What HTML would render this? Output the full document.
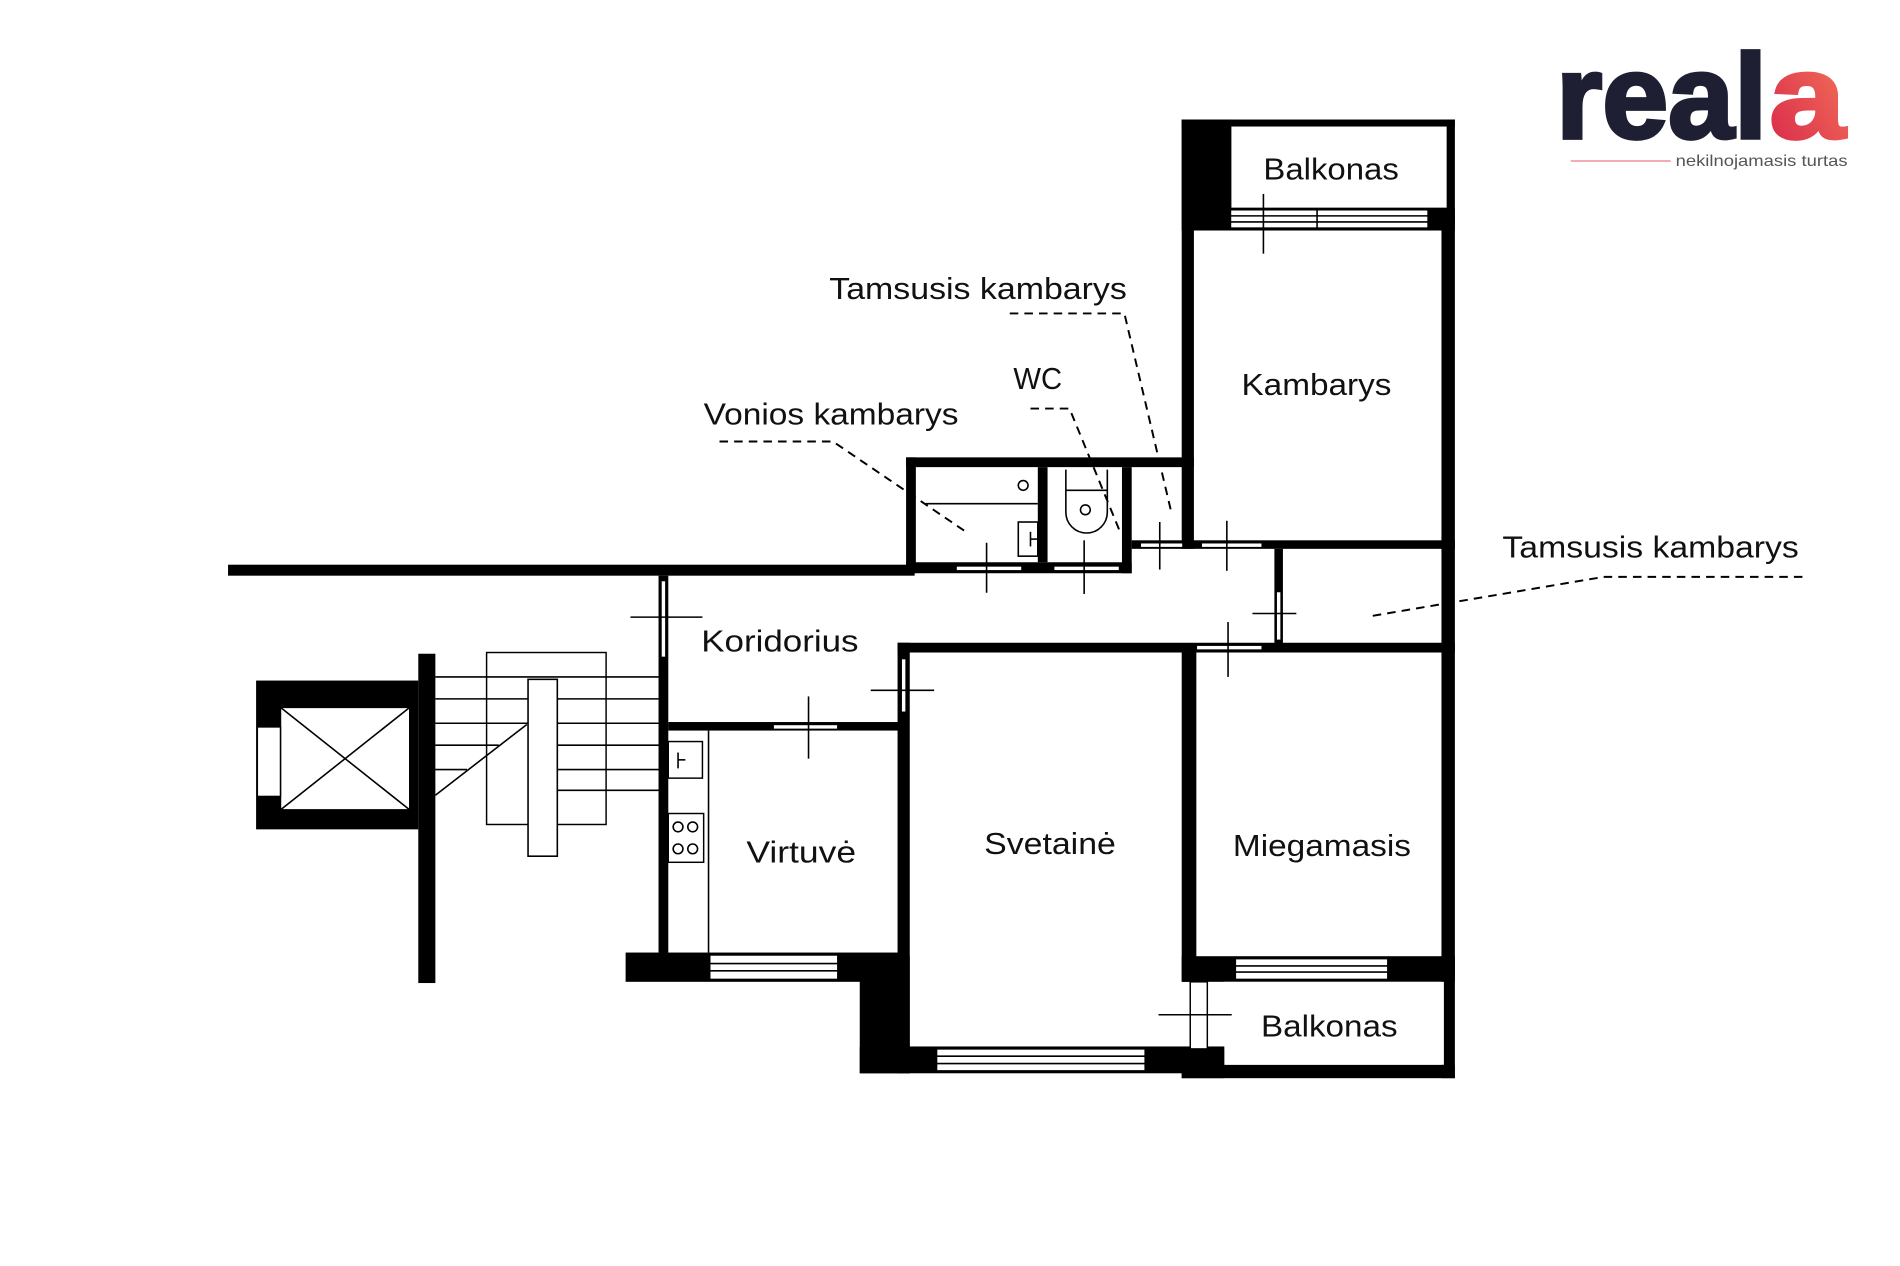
<!DOCTYPE html>
<html><head><meta charset="utf-8"><style>
html,body{margin:0;padding:0;background:#fff;}
svg{display:block;}
text{font-family:"Liberation Sans",sans-serif;}
</style></head><body>
<svg width="1900" height="1266" viewBox="0 0 1558 1038" preserveAspectRatio="none" xmlns="http://www.w3.org/2000/svg">
<defs>
<linearGradient id="g" x1="0" y1="1" x2="1" y2="0"><stop offset="0" stop-color="#d8264a"/><stop offset="1" stop-color="#f4785a"/></linearGradient>
</defs>
<rect width="1558" height="1038" fill="#fff"/>
<text x="1276" y="113" font-size="98" font-weight="bold" fill="#1e1f32" stroke="#1e1f32" stroke-width="3" textLength="173" lengthAdjust="spacingAndGlyphs">real</text>
<text x="1451" y="113" font-size="98" font-weight="bold" fill="url(#g)" stroke="url(#g)" stroke-width="3" textLength="62" lengthAdjust="spacingAndGlyphs">a</text>
<line x1="1288" y1="132" x2="1370" y2="132" stroke="#f2a0a8" stroke-width="1.5"/>
<text x="1374" y="136" font-size="13" fill="#555" textLength="141" lengthAdjust="spacingAndGlyphs">nekilnojamasis turtas</text>

<g fill="#000">
<rect x="187" y="463" width="563" height="9"/>
<rect x="743" y="375" width="8" height="95"/>
<rect x="743" y="375" width="236" height="8"/>
<rect x="743" y="461" width="185" height="9"/>
<rect x="851" y="383" width="8" height="78"/>
<rect x="920" y="383" width="8" height="87"/>
<rect x="969" y="98" width="10" height="352"/>
<rect x="969" y="98" width="43" height="91"/>
<rect x="969" y="98" width="224" height="6"/>
<rect x="1182" y="98" width="11" height="786"/>
<rect x="1009" y="171" width="184" height="18"/>
<rect x="928" y="443" width="265" height="7"/>
<rect x="1045" y="450" width="7" height="78"/>
<rect x="736" y="527" width="457" height="8"/>
<rect x="736" y="527" width="10" height="353"/>
<rect x="969" y="535" width="12" height="270"/>
<rect x="969" y="784" width="224" height="21"/>
<rect x="969" y="873" width="224" height="11"/>
<rect x="969" y="860" width="35" height="24"/>
<rect x="705" y="858" width="299" height="22"/>
<rect x="705" y="784" width="41" height="96"/>
<rect x="540" y="472" width="8" height="312"/>
<rect x="548" y="592" width="190" height="7"/>
<rect x="513" y="781" width="231" height="24"/>
<rect x="343" y="536" width="14" height="270"/>
<rect x="210" y="558" width="133" height="122"/>
</g>
<g fill="#fff" stroke="#000" stroke-width="1.2">
<rect x="230" y="580" width="106" height="84"/>
<rect x="211" y="596" width="19" height="57"/>
<rect x="784" y="464" width="54" height="4"/>
<rect x="864" y="464" width="54" height="4"/>
<rect x="935" y="445" width="35" height="4"/>
<rect x="985" y="445" width="50" height="4"/>
<rect x="1046.5" y="485" width="4" height="40"/>
<rect x="981" y="529" width="54" height="4"/>
<rect x="739" y="540" width="4" height="44"/>
<rect x="542" y="476" width="4" height="63"/>
<rect x="634" y="594" width="53" height="4"/>
<rect x="1009" y="172" width="162" height="15"/>
<rect x="1013" y="786" width="125" height="17"/>
<rect x="768" y="860" width="171" height="18"/>
<rect x="582" y="783" width="105" height="20"/>
<rect x="1009" y="103" width="178" height="68" stroke-width="1.5"/>
<rect x="1004" y="805" width="180" height="68" stroke="none"/>
<rect x="976" y="805" width="14" height="55"/>
<rect x="548" y="608" width="28" height="30"/>
<rect x="548" y="667" width="29" height="40"/>
<rect x="399" y="535" width="98" height="141"/>
</g>
<g stroke="#000" stroke-width="1.3" fill="none">
<line x1="1009" y1="177" x2="1171" y2="177"/><line x1="1009" y1="182" x2="1171" y2="182"/><line x1="1080" y1="172" x2="1080" y2="187"/>
<line x1="1013" y1="792" x2="1138" y2="792"/><line x1="1013" y1="797" x2="1138" y2="797"/>
<line x1="768" y1="866" x2="939" y2="866"/><line x1="768" y1="872" x2="939" y2="872"/>
<line x1="582" y1="790" x2="687" y2="790"/><line x1="582" y1="796" x2="687" y2="796"/>
<line x1="809" y1="445" x2="809" y2="486"/>
<line x1="889" y1="443" x2="889" y2="487"/>
<line x1="951" y1="428" x2="951" y2="467"/>
<line x1="1006" y1="427" x2="1006" y2="468"/>
<line x1="1036" y1="159" x2="1036" y2="208"/>
<line x1="1027" y1="503" x2="1063" y2="503"/>
<line x1="1007" y1="510" x2="1007" y2="555"/>
<line x1="714" y1="566" x2="766" y2="566"/>
<line x1="517" y1="506" x2="576" y2="506"/>
<line x1="663" y1="571" x2="663" y2="622"/>
<line x1="950" y1="832" x2="1010" y2="832"/>
<line x1="581" y1="599" x2="581" y2="781"/>
<line x1="556" y1="617" x2="556" y2="630"/><line x1="556" y1="623" x2="562" y2="623"/>
<circle cx="556" cy="678" r="4"/><circle cx="568" cy="678" r="4"/><circle cx="556" cy="696" r="4"/><circle cx="568" cy="696" r="4"/>
<line x1="230" y1="580" x2="336" y2="664"/><line x1="336" y1="580" x2="230" y2="664"/>
<line x1="357" y1="555" x2="540" y2="555"/>
<line x1="357" y1="573" x2="540" y2="573"/>
<line x1="357" y1="593" x2="540" y2="593"/>
<line x1="357" y1="611" x2="409" y2="611"/><line x1="457" y1="611" x2="540" y2="611"/>
<line x1="357" y1="631" x2="383" y2="631"/><line x1="457" y1="631" x2="540" y2="631"/>
<line x1="457" y1="648" x2="540" y2="648"/>
<line x1="432" y1="594" x2="357" y2="652"/>
<line x1="759" y1="413" x2="851" y2="413"/>
<circle cx="839" cy="398" r="4"/>
<rect x="835" y="428" width="16" height="28"/><line x1="845" y1="436" x2="845" y2="448"/><line x1="845" y1="442" x2="851" y2="442"/>
<path d="M874 385 V420 A17 17 0 0 0 908 420 V385"/><line x1="874" y1="402" x2="908" y2="402"/>
<circle cx="890" cy="418" r="4"/>
</g>
<rect x="433" y="557" width="24" height="145" fill="#fff" stroke="#000" stroke-width="1.3"/>
<g stroke="#000" stroke-width="1.6" fill="none" stroke-dasharray="7,5">
<polyline points="828,257 922,257 960,418"/>
<polyline points="845,335 877,335 918,435"/>
<polyline points="590,362 683,362 792,436"/>
<polyline points="1478,473 1315,473 1125,505"/>
</g>
<g font-size="25" fill="#111">
<text x="1036" y="147" textLength="111" lengthAdjust="spacingAndGlyphs">Balkonas</text>
<text x="680" y="245" textLength="244" lengthAdjust="spacingAndGlyphs">Tamsusis kambarys</text>
<text x="831" y="319" textLength="40" lengthAdjust="spacingAndGlyphs">WC</text>
<text x="577" y="348" textLength="209" lengthAdjust="spacingAndGlyphs">Vonios kambarys</text>
<text x="1018" y="324" textLength="123" lengthAdjust="spacingAndGlyphs">Kambarys</text>
<text x="1232" y="457" textLength="243" lengthAdjust="spacingAndGlyphs">Tamsusis kambarys</text>
<text x="575" y="534" textLength="129" lengthAdjust="spacingAndGlyphs">Koridorius</text>
<text x="612" y="707" textLength="90" lengthAdjust="spacingAndGlyphs">Virtuvė</text>
<text x="807" y="700" textLength="108" lengthAdjust="spacingAndGlyphs">Svetainė</text>
<text x="1011" y="702" textLength="146" lengthAdjust="spacingAndGlyphs">Miegamasis</text>
<text x="1034" y="850" textLength="112" lengthAdjust="spacingAndGlyphs">Balkonas</text>
</g>
</svg>
</body></html>
